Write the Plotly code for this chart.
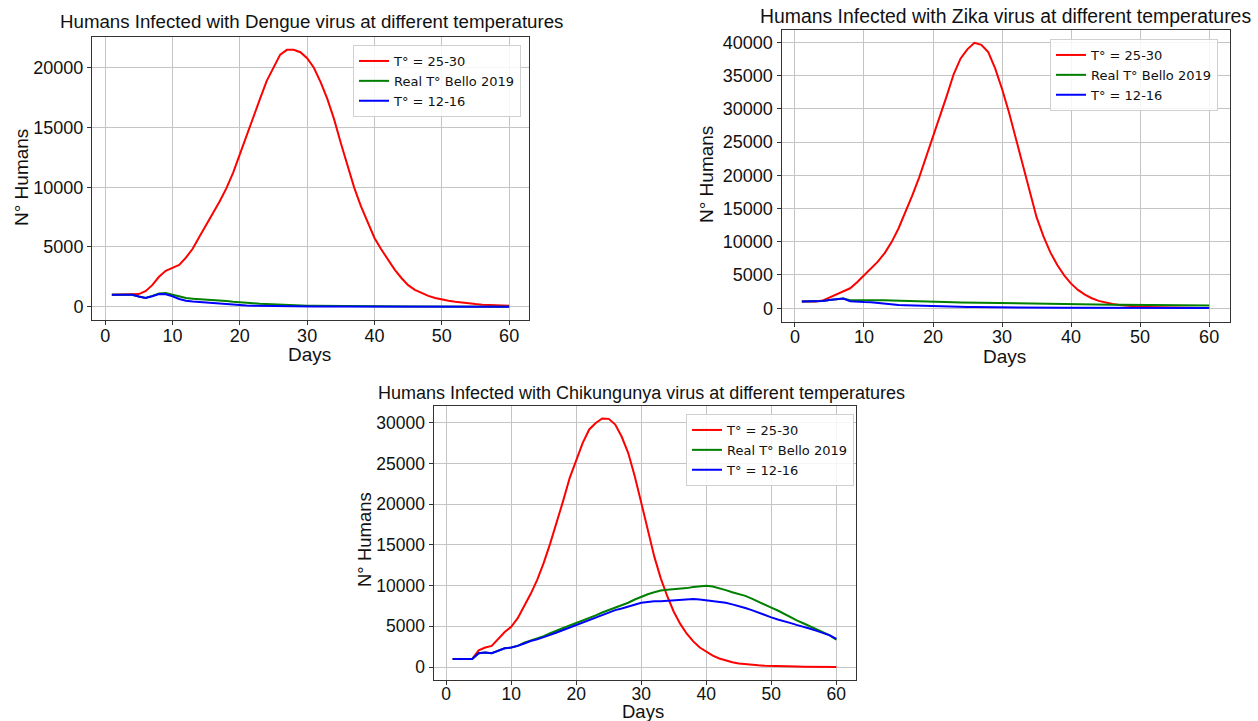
import plotly.graph_objects as go

W, H = 1258, 721

days = list(range(1, 61))

# ---- Dengue ----
dengue_hot = [1000, 1000, 1000, 1000, 1050, 1300, 1800, 2500, 3000, 3250,
              3500, 4100, 4850, 5850, 6800, 7750, 8800, 9900, 11200, 12750,
              14300, 16000, 17400, 18900, 20000, 21100, 21500, 21500, 21300, 20800,
              20000, 18800, 17400, 15700, 13700, 11900, 9950, 8400, 7000, 5750,
              4800, 3900, 3100, 2400, 1800, 1400, 1120, 900, 730, 590,
              500, 420, 340, 280, 220, 170, 150, 130, 100, 80]
dengue_real = [1000, 1000, 1000, 1000, 850, 720, 900, 1100, 1150, 1000,
               850, 720, 670, 640, 610, 580, 530, 470, 410, 350,
               310, 280, 240, 210, 180, 150, 130, 110, 95, 80,
               70, 62, 55, 48, 42, 37, 32, 28, 24, 20,
               17, 15, 13, 11, 9, 8, 7, 6, 5, 4,
               4, 3, 3, 2, 2, 2, 1, 1, 1, 1]
dengue_cold = [1000, 1000, 1000, 1000, 850, 720, 870, 1060, 1030, 870,
               640, 500, 430, 380, 330, 280, 230, 180, 140, 110,
               90, 70, 58, 48, 40, 33, 28, 23, 20, 17,
               14, 12, 10, 9, 8, 7, 6, 5, 4, 4,
               3, 3, 3, 2, 2, 2, 2, 1, 1, 1,
               1, 1, 1, 1, 1, 1, 1, 1, 1, 1]

# ---- Zika ----
zika_hot = [1000, 1000, 1000, 1150, 1600, 2150, 2600, 3000, 3900, 4900,
            6000, 7000, 8300, 9950, 12000, 14450, 17000, 19700, 22700, 25750,
            28900, 32000, 35250, 37600, 39000, 39950, 39650, 38550, 36100, 33000,
            29500, 25500, 21500, 17450, 13700, 10800, 8400, 6500, 4950, 3700,
            2750, 2050, 1500, 1100, 820, 620, 470, 360, 270, 210,
            170, 140, 110, 90, 75, 60, 50, 40, 35, 30]
zika_real = [1000, 1000, 1000, 1100, 1250, 1400, 1450, 1200, 1200, 1250,
             1300, 1250, 1200, 1150, 1130, 1120, 1110, 1100, 1050, 1000,
             960, 920, 890, 860, 840, 820, 800, 780, 760, 740,
             720, 710, 700, 680, 660, 640, 620, 610, 600, 590,
             580, 570, 560, 550, 540, 530, 520, 510, 500, 490,
             480, 470, 460, 450, 440, 430, 420, 410, 400, 390]
zika_cold = [1000, 1000, 1000, 1100, 1250, 1400, 1450, 1050, 950, 930,
             900, 780, 650, 560, 500, 450, 410, 370, 330, 300,
             270, 240, 220, 200, 180, 165, 150, 140, 130, 120,
             112, 105, 100, 95, 90, 86, 82, 78, 75, 72,
             69, 66, 63, 60, 58, 56, 54, 52, 50, 48,
             46, 44, 42, 40, 38, 36, 34, 32, 30, 28]

# ---- Chikungunya ----
chik_hot = [1000, 1000, 1000, 1000, 2050, 2400, 2600, 3400, 4300, 4950,
            6000, 7500, 9000, 10700, 12800, 15200, 17700, 20450, 23250, 25500,
            27550, 29200, 30000, 30550, 30500, 29800, 28300, 26300, 23450, 20200,
            16700, 13600, 10900, 8700, 6800, 5300, 4100, 3150, 2400, 1850,
            1400, 1050, 780, 580, 440, 340, 270, 210, 160, 120,
            100, 80, 65, 55, 45, 38, 30, 25, 20, 15]
chik_real = [1000, 1000, 1000, 1000, 1700, 1800, 1700, 2050, 2300, 2400,
             2600, 3000, 3250, 3500, 3800, 4150, 4500, 4800, 5100, 5400,
             5700, 6050, 6350, 6700, 7000, 7300, 7600, 7900, 8300, 8650,
             8950, 9200, 9400, 9500, 9550, 9650, 9700, 9850, 9950, 10000,
             9900, 9700, 9450, 9200, 9000, 8750, 8400, 8000, 7650, 7300,
             6950, 6500, 6100, 5700, 5350, 5000, 4650, 4300, 3900, 3350]
chik_cold = [1000, 1000, 1000, 1000, 1700, 1800, 1700, 2050, 2300, 2400,
             2600, 2900, 3200, 3400, 3650, 3950, 4250, 4550, 4950, 5200,
             5500, 5800, 6100, 6400, 6700, 7000, 7200, 7450, 7700, 7900,
             8000, 8100, 8100, 8150, 8200, 8250, 8300, 8350, 8300, 8200,
             8150, 8050, 7900, 7700, 7500, 7250, 7000, 6700, 6350, 6100,
             5850, 5650, 5400, 5150, 4950, 4700, 4450, 4200, 3900, 3450]

series_names = ["T° = 25-30", "Real T° Bello 2019", "T° = 12-16"]
series_colors = ["#ff0000", "#008000", "#0000ff"]
x_ticks = [0, 10, 20, 30, 40, 50, 60]

panels = [
    dict(title="Humans Infected with Dengue virus at different temperatures",
         data=[dengue_hot, dengue_real, dengue_cold],
         box=(92, 529, 37, 319.5), yrange=[-1075, 22575],
         ytick=[0, 5000, 10000, 15000, 20000],
         title_xy=(311, 22), title_size=18.7, tick_size=18, xstand=-4,
         xlab_xy=(309, 354), ylab_xy=(21, 178), lab_size=19,
         legend_xy=(353, 45)),
    dict(title="Humans Infected with Zika virus at different temperatures",
         data=[zika_hot, zika_real, zika_cold],
         box=(781.5, 1229.5, 29.5, 321.5), yrange=[-2000, 41950],
         ytick=list(range(0, 40001, 5000)),
         title_xy=(1005, 16), title_size=19.4, tick_size=18, xstand=-5,
         xlab_xy=(1004, 356), ylab_xy=(706, 175), lab_size=19,
         legend_xy=(1050, 39)),
    dict(title="Humans Infected with Chikungunya virus at different temperatures",
         data=[chik_hot, chik_real, chik_cold],
         box=(433.5, 855.5, 406, 679.5), yrange=[-1530, 32080],
         ytick=list(range(0, 30001, 5000)),
         title_xy=(641, 393), title_size=18.0, tick_size=17.5, xstand=-6,
         xlab_xy=(643, 711), ylab_xy=(364, 540), lab_size=18.5,
         legend_xy=(686, 414)),
]

FONT = "Liberation Sans, Arial, sans-serif"
fig = go.Figure()
annotations = []
layout = {}

for i, p in enumerate(panels):
    n = "" if i == 0 else str(i + 1)
    leg = "legend" if i == 0 else f"legend{i + 1}"
    for vals, name, col in zip(p["data"], series_names, series_colors):
        fig.add_trace(go.Scatter(x=days, y=vals, mode="lines", name=name,
                                 line=dict(color=col, width=2),
                                 xaxis="x" + n, yaxis="y" + n, legend=leg))
    l, r, t, b = p["box"]
    axis_common = dict(showgrid=True, gridcolor="#c4c4c4", gridwidth=1,
                       showline=True, linecolor="#333333", linewidth=1, mirror=True,
                       ticks="outside", ticklen=4, tickcolor="#333333",
                       tickfont=dict(family=FONT, size=p["tick_size"], color="#111111"),
                       zeroline=False)
    layout["xaxis" + n] = dict(domain=[l / W, r / W], anchor="y" + n,
                               range=[-1.95, 62.95], tickvals=x_ticks,
                               ticklabelstandoff=p["xstand"], **axis_common)
    layout["yaxis" + n] = dict(domain=[1 - b / H, 1 - t / H], anchor="x" + n,
                               range=p["yrange"], tickvals=p["ytick"],
                               tickformat="d", **axis_common)
    lx, ly = p["legend_xy"]
    layout[leg] = dict(x=lx / W, y=1 - ly / H, xanchor="left", yanchor="top",
                       xref="paper", yref="paper",
                       bgcolor="rgba(255,255,255,0.85)", bordercolor="#d0d0d0",
                       borderwidth=1, itemwidth=30, tracegroupgap=0,
                       font=dict(family="DejaVu Sans", size=13, color="#111111"))
    tx, ty = p["title_xy"]
    annotations.append(dict(text=p["title"], x=tx / W, y=1 - ty / H, xref="paper",
                            yref="paper", showarrow=False, xanchor="center",
                            yanchor="middle",
                            font=dict(family=FONT, size=p["title_size"], color="#111111")))
    xx, xy = p["xlab_xy"]
    annotations.append(dict(text="Days", x=xx / W, y=1 - xy / H, xref="paper",
                            yref="paper", showarrow=False, xanchor="center",
                            yanchor="middle",
                            font=dict(family=FONT, size=p["lab_size"], color="#111111")))
    yx, yy = p["ylab_xy"]
    annotations.append(dict(text="N° Humans", x=yx / W, y=1 - yy / H, xref="paper",
                            yref="paper", showarrow=False, xanchor="center",
                            yanchor="middle", textangle=-90,
                            font=dict(family=FONT, size=p["lab_size"], color="#111111")))

fig.update_layout(width=W, height=H, margin=dict(l=0, r=0, t=0, b=0),
                  paper_bgcolor="white", plot_bgcolor="white",
                  showlegend=True, annotations=annotations, **layout)

fig.write_html("out.html", config={"displayModeBar": False},
               post_script="document.body.style.margin='0';")
